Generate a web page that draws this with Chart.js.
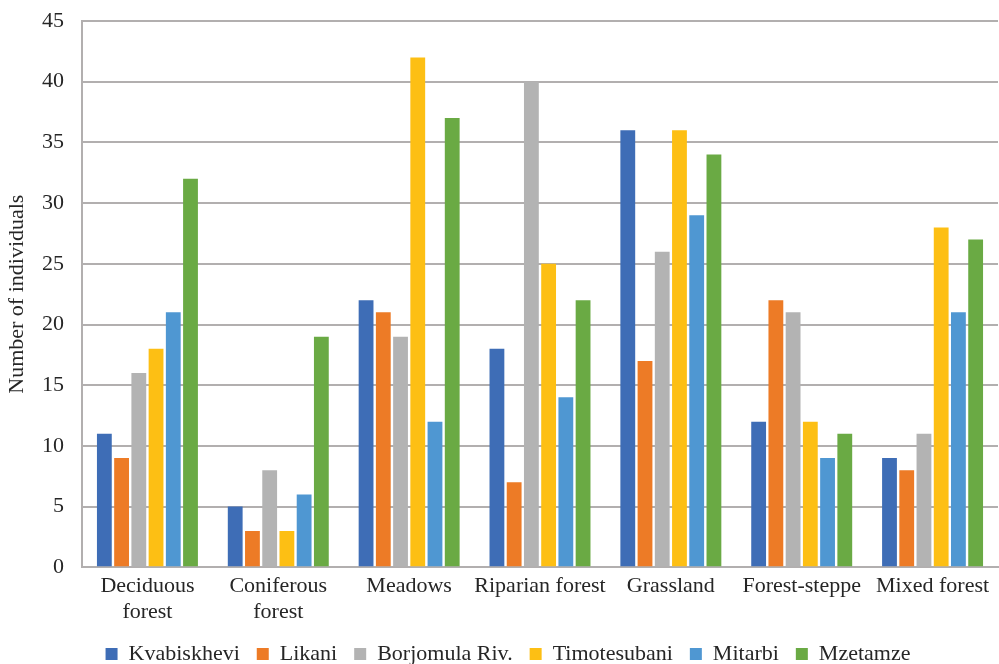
<!DOCTYPE html>
<html>
<head>
<meta charset="utf-8">
<script src="https://cdn.jsdelivr.net/npm/chart.js@4.4.1/dist/chart.umd.min.js"></script>
<style>
  html, body { margin: 0; padding: 0; background: #ffffff; }
  #wrap { width: 999px; height: 664px; position: relative; }
</style>
</head>
<body>
<div id="wrap"><canvas id="chart" width="999" height="664"></canvas></div>
<script>
// Habitat categories (multi-line labels where the axis wraps them)
const categories = [
  ["Deciduous", "forest"],
  ["Coniferous", "forest"],
  "Meadows",
  "Riparian forest",
  "Grassland",
  "Forest-steppe",
  "Mixed forest"
];

// Number of individuals per site, one value per habitat
const kvabiskhevi  = [11, 5, 22, 18, 36, 12, 9];
const likani       = [9, 3, 21, 7, 17, 22, 8];
const borjomulaRiv = [16, 8, 19, 40, 26, 21, 11];
const timotesubani = [18, 3, 42, 25, 36, 12, 28];
const mitarbi      = [21, 6, 12, 14, 29, 9, 21];
const mzetamze     = [32, 19, 37, 22, 34, 11, 27];

const yTicks = [0, 5, 10, 15, 20, 25, 30, 35, 40, 45];

const serif = "'Liberation Serif', 'Times New Roman', serif";
const textColor = "#262626";
const gridColor = "#b2afaf";

const series = [
  { label: "Kvabiskhevi",    data: kvabiskhevi,  color: "#3e6db6" },
  { label: "Likani",         data: likani,       color: "#ed7b26" },
  { label: "Borjomula Riv.", data: borjomulaRiv, color: "#b3b3b3" },
  { label: "Timotesubani",   data: timotesubani, color: "#fdbf14" },
  { label: "Mitarbi",        data: mitarbi,      color: "#4f97d2" },
  { label: "Mzetamze",       data: mzetamze,     color: "#6aaa44" }
];

// Nudge the legend row a little to the right of the canvas centre
const legendShift = {
  id: "legendShift",
  afterLayout(chart) {
    const lg = chart.legend;
    if (lg) { lg.left += 9; lg.right += 9; }
  }
};

new Chart(document.getElementById("chart"), {
  type: "bar",
  data: {
    labels: categories,
    datasets: series.map(s => ({
      label: s.label,
      data: s.data,
      backgroundColor: s.color,
      borderWidth: 0,
      categoryPercentage: 0.79,
      barPercentage: 0.86
    }))
  },
  plugins: [legendShift],
  options: {
    responsive: false,
    animation: false,
    layout: { padding: { top: 0, right: 1, left: 0, bottom: -11 } },
    plugins: {
      tooltip: { enabled: false },
      legend: {
        position: "bottom",
        labels: {
          boxWidth: 12,
          boxHeight: 12,
          padding: 17,
          color: textColor,
          font: { family: serif, size: 22 }
        }
      }
    },
    scales: {
      x: {
        grid: { display: false, drawTicks: false },
        border: { color: gridColor, width: 2 },
        afterFit: axis => { axis.height -= 5; },
        ticks: {
          color: textColor,
          padding: 5,
          maxRotation: 0,
          autoSkip: false,
          font: { family: serif, size: 22, lineHeight: 1.22 }
        }
      },
      y: {
        min: 0,
        max: 45,
        afterBuildTicks: axis => { axis.ticks = yTicks.map(v => ({ value: v })); },
        afterFit: axis => { axis.width = 82; axis.paddingTop = 21; },
        grid: { color: gridColor, lineWidth: 2, drawTicks: false },
        border: { color: gridColor, width: 2 },
        ticks: {
          color: textColor,
          padding: 18,
          font: { family: serif, size: 22, lineHeight: 1 }
        },
        title: {
          display: true,
          text: "Number of individuals",
          color: textColor,
          padding: { top: 4, bottom: 0 },
          font: { family: serif, size: 22 }
        }
      }
    }
  }
});
</script>
</body>
</html>
